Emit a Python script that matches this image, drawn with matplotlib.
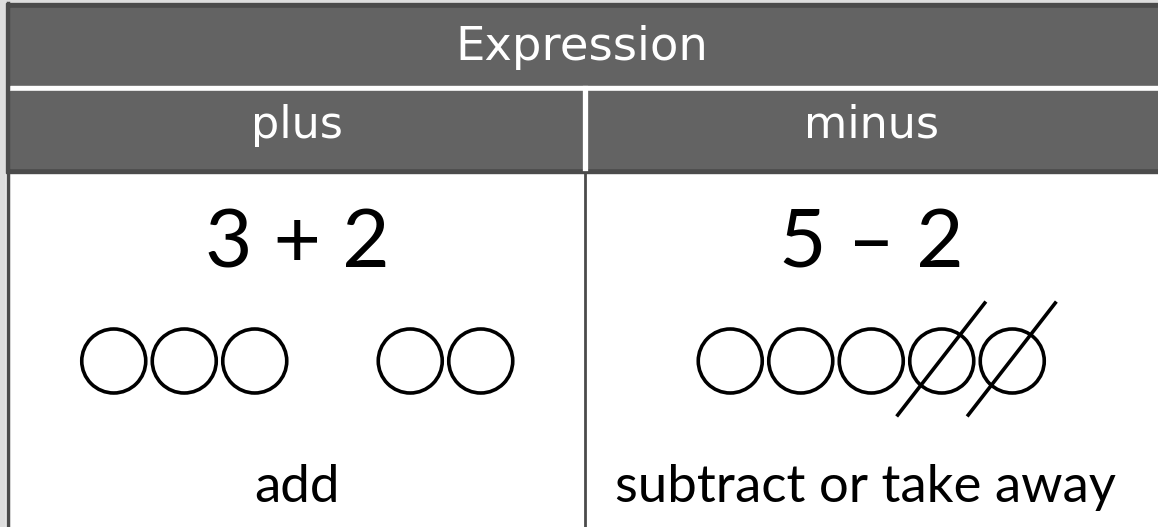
import matplotlib.pyplot as plt
from matplotlib.patches import Circle, Rectangle

# table content
title = "Expression"
columns = ["plus", "minus"]
expressions = ["3 + 2", "5 – 2"]
groups = [[3, 2], [5]]          # circles per group in each column
crossed = [0, 2]                # circles crossed out at the end of each column
descriptions = ["add", "subtract or take away"]

W, H = 1158, 527
fig = plt.figure(figsize=(W / 100, H / 100), dpi=100)
fig.patch.set_facecolor("#dedede")
ax = fig.add_axes([0, 0, 1, 1])
ax.set_xlim(0, W)
ax.set_ylim(H, 0)
ax.set_aspect("equal")
ax.axis("off")

left, top, mid = 6, 3, 584.5
head_font = "DejaVu Sans"
body_font = "Lato"

# body and header blocks
ax.add_patch(Rectangle((left, top), W - left, H - top, color="white", zorder=0))
ax.add_patch(Rectangle((left, top), W - left, 170, color="#4b4b4b", zorder=1))
ax.add_patch(Rectangle((left + 4, 8), W, 78, color="#636363", zorder=2))
ax.add_patch(Rectangle((left + 4, 86), W, 5, color="white", zorder=2))
ax.add_patch(Rectangle((left + 4, 91), W, 77, color="#636363", zorder=2))
ax.plot([left + 2, left + 2], [top, H], color="#4b4b4b", lw=2.5, zorder=3)
ax.plot([mid, mid], [88, 168], color="white", lw=3.8, zorder=3)
ax.plot([mid, mid], [173, H], color="#4b4b4b", lw=2, zorder=3)

ax.text((left + W) / 2, 60, title, color="white", fontsize=33.5, family=head_font,
        ha="center", va="baseline", zorder=4)

col_centers = [(left + 4 + mid) / 2, (mid + W) / 2]
step, gap, r = 70.5, 85, 32
for i, cx in enumerate(col_centers):
    ax.text(cx, 138, columns[i], color="white", fontsize=32, family=head_font,
            ha="center", va="baseline", zorder=4)
    ax.text(cx, 267, expressions[i], color="black", fontsize=59, family=body_font,
            ha="center", va="baseline", zorder=4)
    ax.text(cx - 6 * i, 502, descriptions[i], color="black", fontsize=38, family=body_font,
            ha="center", va="baseline", zorder=4)

    n = sum(groups[i])
    width = (n - 1) * step + (len(groups[i]) - 1) * gap
    x = cx - width / 2
    xs = []
    for g, count in enumerate(groups[i]):
        for _ in range(count):
            xs.append(x)
            x += step
        x += gap
    for k, px in enumerate(xs):
        ax.add_patch(Circle((px, 361), r, fill=False, ec="black", lw=2.6, zorder=4))
        if k >= n - crossed[i]:
            ax.plot([px - 44, px + 43], [415, 303], color="black", lw=2.6, zorder=4)

fig.savefig("out.png", dpi=100)
